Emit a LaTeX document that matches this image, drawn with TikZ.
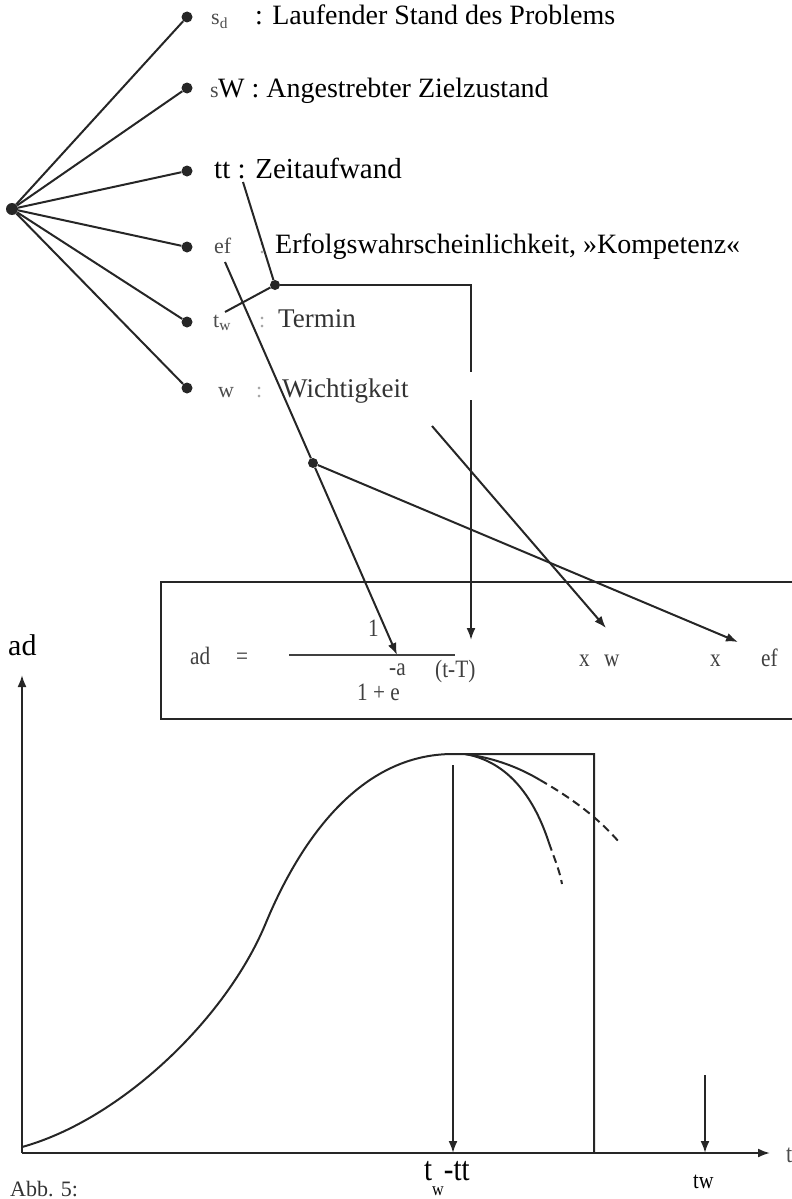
\documentclass[tikz,border=0pt]{standalone}
\usepackage{fontspec}
\setmainfont{Liberation Serif}
\newfontfamily\condfont[FakeStretch=0.85]{Liberation Serif}
\usetikzlibrary{arrows.meta}
\begin{document}
\begin{tikzpicture}[x=1pt,y=-1pt,
  dot/.style={circle,fill=black!85,inner sep=0pt,minimum size=11pt},
  ln/.style={line width=2pt,draw=black!85},
  arr/.style={ln,-{Latex[length=12pt,width=9pt]}},
  lbl/.style={anchor=base west,inner sep=0pt,font=\fontsize{28}{30}\selectfont},
  scanlbl/.style={anchor=base west,inner sep=0pt,text=black!70,font=\fontsize{22}{24}\selectfont},
  darklbl/.style={anchor=base west,inner sep=0pt,text=black!80,font=\fontsize{27}{29}\selectfont},
  faint/.style={anchor=base west,inner sep=0pt,text=black!35,font=\fontsize{22}{24}\selectfont},
  frm/.style={anchor=base west,inner sep=0pt,text=black!75,font=\condfont\fontsize{25}{27}\selectfont},
  dsh/.style={ln,dash pattern=on 8pt off 5pt}
]
\useasboundingbox (0,0) rectangle (792,1199);

% ---------- top tree ----------
\node[dot,minimum size=12pt] (r) at (12,209) {};
\node[dot] (d1) at (187,17) {};
\node[dot] (d2) at (187,88) {};
\node[dot] (d3) at (187,171) {};
\node[dot] (d4) at (187,247) {};
\node[dot] (d5) at (187,322) {};
\node[dot] (d6) at (187,388) {};
\foreach \d in {d1,d2,d3,d4,d5,d6} \draw[ln] (r) -- (\d);

% labels
\node[scanlbl] (p1) at (211,25) {s\textsubscript{d}};
\node[lbl] (t1) at (255,25) {: Laufender Stand des Problems};
\node[scanlbl] (p2) at (210,97) {s};
\node[lbl] (t2) at (218,97) {W : Angestrebter Zielzustand};
\node[lbl,font=\fontsize{29}{31}\selectfont] (t3) at (214,178) {tt : Zeitaufwand};
\node[scanlbl] (p4) at (214,253) {ef};
\node[faint] (c4) at (259,253) {:};
\node[lbl] (t4) at (275,253) {Erfolgswahrscheinlichkeit, »Kompetenz«};
\node[scanlbl] (p5) at (213,327) {t\textsubscript{w}};
\node[faint] (c5) at (259,327) {:};
\node[darklbl] (t5) at (278,327) {Termin};
\node[scanlbl] (p6) at (218,397) {w};
\node[faint] (c6) at (256,397) {:};
\node[darklbl] (t6) at (282,397) {Wichtigkeit};

% connectors into the formula
\node[dot,minimum size=10pt] (j1) at (275,285) {};
\node[dot,minimum size=10pt] (j2) at (313,463) {};
\coordinate (ttS) at (243,182);
\coordinate (twS) at (225,312);
\coordinate (efS) at (225,262);
\coordinate (wS) at (432,426);
\coordinate (g1) at (471,372);
\coordinate (g2) at (471,400);
\coordinate (aT) at (471,640);
\coordinate (aA) at (397,655);
\coordinate (aW) at (606,628);
\coordinate (aE) at (738,642);

\draw[ln] (ttS) -- (j1);
\draw[ln] (twS) -- (j1);
\draw[ln] (j1) -| (g1);
\draw[arr] (g2) -- (aT);
\draw[ln] (efS) -- (j2);
\draw[arr] (j2) -- (aA);
\draw[arr] (j2) -- (aE);
\draw[arr] (wS) -- (aW);

% formula box (open to the right edge)
\draw[ln] (792,582) -- (161,582) -- (161,719) -- (792,719);
\node[frm] (fad) at (190,664) {ad};
\node[frm] (feq) at (236,664) {=};
\draw[line width=1.4pt,black!75] (289,655) -- (455,655);
\node[frm] (fn) at (368,636) {1};
\node[frm] (fa) at (389,675) {-a};
\node[frm] (ftT) at (435,677) {(t-T)};
\node[frm] (fd) at (357,700) {1 + e};
\node[frm] (fx1) at (579,666) {x};
\node[frm] (fw) at (604,666) {w};
\node[frm] (fx2) at (710,666) {x};
\node[frm] (fef) at (761,666) {ef};

% ---------- graph ----------
\coordinate (O) at (22,1153);
\coordinate (Ytop) at (22,675);
\coordinate (Xend) at (770,1153);
\draw[arr] (O) -- (Ytop);
\draw[arr] (O) -- (Xend);
\node[anchor=base west,inner sep=0pt,font=\fontsize{30}{32}\selectfont] (yl) at (8,655) {ad};
\node[anchor=base west,inner sep=0pt,text=black!70,font=\condfont\fontsize{26}{28}\selectfont] (xl) at (786,1162) {t};

\coordinate (c0) at (22,1147);
\coordinate (ci) at (265,925);
\coordinate (pk) at (453,754);
\coordinate (pr) at (594,754);
\coordinate (pb) at (594,1153);
\draw[ln] (c0) .. controls (120,1120) and (225,1020) .. (ci)
          .. controls (300,840) and (360,754) .. (pk) -- (pr) -- (pb);

% falling branches
\coordinate (bs) at (465,754);
\coordinate (a1) at (549,843);
\coordinate (a2) at (562,884);
\coordinate (b1) at (540,780);
\coordinate (b2) at (619,842);
\draw[ln] (bs) .. controls (510,762) and (535,800) .. (a1);
\draw[dsh] (a1) .. controls (555,860) and (560,872) .. (a2);
\draw[ln] (bs) .. controls (495,758) and (520,768) .. (b1);
\draw[dsh] (b1) .. controls (575,800) and (600,820) .. (b2);

% time markers
\coordinate (m1s) at (453,765);
\coordinate (m1e) at (453,1153);
\coordinate (m2s) at (705,1075);
\coordinate (m2e) at (705,1153);
\draw[arr] (m1s) -- (m1e);
\draw[arr] (m2s) -- (m2e);
\node[anchor=base west,inner sep=0pt,font=\condfont\fontsize{34}{36}\selectfont] (l1) at (424,1180) {t\raisebox{-0.45em}{\fontsize{19}{20}\selectfont w}-tt};
\node[anchor=base west,inner sep=0pt,font=\condfont\fontsize{24}{26}\selectfont] (l2) at (693,1188) {tw};
\node[anchor=base west,inner sep=0pt,text=black!80,font=\fontsize{22}{24}\selectfont] (cap) at (10,1196) {Abb. 5:};
\end{tikzpicture}
\end{document}
